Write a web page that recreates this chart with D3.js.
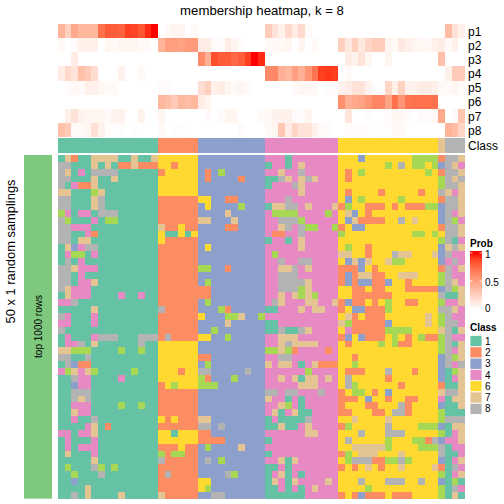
<!DOCTYPE html>
<html>
<head>
<meta charset="utf-8">
<script src="https://cdn.jsdelivr.net/npm/d3@7"></script>
<style>
html,body{margin:0;padding:0;background:#fff}
svg{display:block;font-family:"Liberation Sans",Arial,sans-serif}
</style>
</head>
<body>
<div id="chart"></div>
<script>
const classNames = [1,2,3,4,5,6,7,8];
const classColors = ["#66c2a5","#fc8d62","#8da0cb","#e78ac3","#a6d854","#ffd92f","#e5c494","#b3b3b3"];
const legendClasses = [1,2,3,4,6,7,8];
const probLabels = ["p1","p2","p3","p4","p5","p6","p7","p8"];
const probTicks = [0,0.5,1];
const columnClassRuns = [[1,15],[2,6],[3,10],[4,11],[6,15],[7,1],[8,3]];

const p1 = [.40,.25,.45,.38,.38,.38,.72,.80,.80,.78,.90,.88,.82,.95,1, 0,.03,.06,.06,0,.03, 0,0,0,0,0,0,0,0,0,0, .27,.15,.07,.20,.10,.20,.03,0,0,0,0, 0,0,0,0,0,0,0,0,0,0,0,0,0,0,0, 0, .35,.15,.08];
const p2 = [.04,0,.02,.08,.08,.08,0,.05,.03,.05,.05,.05,.03,.03,0, .40,.50,.50,.48,.52,.52, .10,.10,.02,.02,.10,.06,.02,0,0,0, .03,.03,.04,.05,0,.05,0,.04,0,0,0, .25,.12,.25,.12,.22,.27,.27,.06,.04,.12,.08,.05,.04,.04,.08, .10, .03,.08,0];
const p3 = [0,0,.10,0,0,0,0,0,0,0,0,0,0,0,0, 0,0,0,0,0,0, .60,.42,.85,.80,.80,.75,.80,.90,1,.95, 0,0,0,0,0,0,0,0,0,0,0, 0,.10,.07,.15,.05,0,0,.06,0,0,0,0,0,0,0, .33, 0,0,0];
const p4 = [.10,.20,.15,.33,.28,.18,0,0,0,.07,0,0,.03,0,0, 0,0,0,0,0,0, 0,0,0,0,0,0,0,0,0,0, .60,.62,.42,.38,.50,.42,.55,.70,.90,.92,.90, 0,.03,0,0,0,0,0,0,0,0,0,0,0,0,0, 0, .08,.28,.28];
const p5 = [0,.02,.04,.03,.08,.08,.05,.03,.03,0,0,0,0,0,0, .02,.02,0,0,0,0, .17,.25,.08,.10,.05,.03,.05,.02,0,0, 0,0,0,0,.03,.05,.04,.04,0,.02,.02, .07,.10,.15,.15,.06,.01,0,.22,.08,.24,.07,.08,.10,.10,.08, .03, .03,.05,.02];
const p6 = [0,0,0,0,0,0,0,0,0,0,0,0,0,0,0, .38,.35,.28,.37,.35,.38, .10,.06,0,0,0,0,0,0,0,0, 0,0,0,0,0,0,0,0,0,0,0, .58,.42,.45,.48,.55,.62,.62,.48,.72,.55,.70,.72,.72,.72,.72, 0, 0,0,0];
const p7 = [0,.08,.15,.07,.05,.05,.05,.03,.07,.07,0,0,.07,0,0, .05,0,0,0,0,0, 0,.03,0,.02,.05,.05,0,0,0,.03, .04,.07,.08,.07,.02,.02,.06,0,0,0,0, 0,.14,0,0,.01,0,0,.02,.05,.04,.02,0,.02,.01,.04, .45, 0,.03,.30];
const p8 = [.33,.28,.03,.03,.05,.17,.07,.01,.01,.01,0,.01,0,0,0, .03,0,.01,.01,0,0, 0,0,0,0,0,0,.02,0,0,0, .03,.05,.30,.10,.22,.15,.15,.08,.03,.02,0, 0,.02,.02,.02,.01,.01,0,.01,.04,.03,0,0,0,0,0, 0, .40,.35,.22];
const probSeries = [p1,p2,p3,p4,p5,p6,p7,p8];

const sampleRows = [
"172117777117117 666666 3333333333 44414444444 666366666665555 2887",
"881117171227222 662666 3333333333 14414744444 666666656865565 3874",
"871418888111111 266666 3235333333 44744844444 626566666666656 2887",
"881117117111111 666666 3233332333 11874787444 626666666666666 5878",
"814227111111111 666666 3333333333 14448744444 666666666666666 5887",
"771115711111111 666666 3333333333 44444744444 626666266666266 8747",
"881117811111111 222222 6633223333 44484444444 636566666566666 2887",
"881117811111111 222222 3633335333 17788474447 256622262622255 3887",
"541441888111111 222222 3333733333 45555444454 673626666666666 3847",
"851114155111111 222222 7733373333 44888544444 637222266867666 3854",
"884441111111111 722622 3333223333 44784855445 263366666666666 2887",
"881142111111111 611616 3333333333 42244844444 566666666665565 6887",
"881771111111111 622222 3333333333 14414744444 666666666666666 5814",
"173488111111111 222222 3633333333 44444744444 656626666666666 3787",
"145514111111111 222222 3333333333 45444444444 776626668776667 3844",
"181411111111111 222222 3333333333 44844884444 637376675566666 3484",
"887444111111111 222222 5533233333 44778474444 222362666666666 2847",
"881411111111111 222222 3333333333 44888444444 232772266777666 5844",
"881447111111111 222222 3533333333 44888874444 232332236626666 5874",
"874441111111111 222222 2233333333 44888574444 662262266622222 3857",
"174441111411411 222222 2233333333 44747575444 662222226666666 8117",
"448111111111111 222222 3533333333 48744477447 232262656622666 5447",
"111117111111111 822222 3335233333 11444747744 263322256666666 8874",
"841114111111111 222222 6333557335 44444444444 672622266666676 5844",
"441114111111111 222222 3333733333 11444444444 752222236666676 5884",
"811111111111111 222222 3353333333 11811874444 642222255556666 7817",
"141114888111888 282222 6633533333 44777444444 236322265626522 5844",
"144817111111811 666666 3333333333 44787777444 626666565226666 5817",
"775551111511511 666666 3333333333 55752444424 666666666666666 5847",
"881181111111111 666666 2233333333 44884444444 662666666666666 3857",
"183221111111111 666666 3533333333 74774147222 665666666666666 3848",
"457475111115111 666266 8833333833 44444454444 622266686662666 3157",
"118441111411111 666666 5233353333 44747177474 686666626666666 3147",
"113441111111111 265666 5553333333 44444777444 685666666266666 2117",
"118881111111111 222222 3333333333 88488444844 265562636666666 7887",
"118781111111111 222222 3333333333 74414144444 222636626622666 4177",
"114441111511511 222222 3333333333 44754144444 266622666826666 3117",
"117441111111111 222222 3333333333 47147114444 226662268826666 5111",
"114118111111111 626222 7733333333 14111184444 667666676666666 5888",
"111147121111111 222222 8838333333 11711474444 256666686666555 3177",
"441447111111111 661666 2233333333 44444477444 666866688866666 5147",
"141114111111111 666666 2222333333 14444444444 686666656665528 3447",
"141444111111111 222622 3533337333 44444444444 667777756666555 8144",
"171114111111111 525522 3333333333 14444444444 256777666766666 8114",
"111117111111111 822222 3835333333 44717444444 658882255856666 3147",
"151118515111111 222222 3333333333 11414444444 262676266766667 2184",
"115111811111111 282222 3333853333 14714144444 666666666666666 5147",
"113111111111111 222222 6633333333 17417444474 666866688866866 3151",
"111171111111111 222222 6533333333 11414147444 666656666666666 5184",
"118171111711111 722222 3388333333 11111144444 262322262226666 5171"
];

const W = 504, H = 504;
const svg = d3.select("#chart").append("svg").attr("width",W).attr("height",H);

const columnClasses = columnClassRuns.flatMap(([c,n]) => d3.range(n).map(() => c));
const nCols = columnClasses.length;
const matrix = sampleRows.map(s => s.replace(/ /g,"").split("").map(Number));

const x = d3.scaleLinear().domain([0,nCols]).range([58,465]);
const yProb = d3.scaleBand().domain(probLabels).range([24,137]);
const yMain = d3.scaleLinear().domain([0,matrix.length]).range([155,498.7]);
const colorClass = d3.scaleOrdinal().domain(classNames).range(classColors);
const colorProb = d3.scaleLinear().domain([0,1]).range(["#ffffff","#ff0000"]).interpolate(d3.interpolateLab);

const px = v => Math.round(v);

// probability heatmap
probLabels.forEach((name,i) => {
  const g = svg.append("g");
  const y0 = px(yProb(name)), y1 = px(yProb(name)+yProb.bandwidth());
  g.selectAll("rect").data(probSeries[i]).join("rect")
    .attr("x",(d,c)=>px(x(c))).attr("width",(d,c)=>px(x(c+1))-px(x(c)))
    .attr("y",y0).attr("height",y1-y0)
    .attr("fill",d=>colorProb(d));
  svg.append("text").attr("x",468).attr("y",yProb(name)+yProb.bandwidth()/2+0.4).attr("dy","0.36em")
    .attr("font-size",12).attr("fill","#000").text(name);
});

// class annotation
svg.append("g").selectAll("rect").data(columnClasses).join("rect")
  .attr("x",(d,c)=>px(x(c))).attr("width",(d,c)=>px(x(c+1))-px(x(c)))
  .attr("y",138).attr("height",15).attr("fill",d=>colorClass(d));
svg.append("text").attr("x",468).attr("y",145.5).attr("dy","0.36em")
  .attr("font-size",12).attr("fill","#000").text("Class");

// sample matrix
svg.append("g").selectAll("g").data(matrix).join("g")
  .each(function(row,r){
    d3.select(this).selectAll("rect").data(row).join("rect")
      .attr("x",(d,c)=>px(x(c))).attr("width",(d,c)=>px(x(c+1))-px(x(c)))
      .attr("y",px(yMain(r))).attr("height",px(yMain(r+1))-px(yMain(r)))
      .attr("fill",d=>colorClass(d));
  });

// left strip
svg.append("rect").attr("x",24).attr("y",155).attr("width",28).attr("height",343.7).attr("fill","#7fc97f");
svg.append("text").attr("transform","translate(38,326.5) rotate(-90)").attr("text-anchor","middle")
  .attr("dy","0.36em").attr("font-size",10).attr("fill","#000").text("top 1000 rows");
svg.append("text").attr("transform","translate(10,251.5) rotate(-90)").attr("text-anchor","middle")
  .attr("dy","0.36em").attr("font-size",12.9).attr("fill","#000").text("50 x 1 random samplings");

// title
svg.append("text").attr("x",262).attr("y",10).attr("text-anchor","middle").attr("dy","0.36em")
  .attr("font-size",13.2).attr("fill","#000").text("membership heatmap, k = 8");

// probability legend
const yLeg = d3.scaleLinear().domain([0,1]).range([309,253]);
const defs = svg.append("defs");
const grad = defs.append("linearGradient").attr("id","probGrad").attr("x1",0).attr("x2",0).attr("y1",1).attr("y2",0);
d3.range(0,1.001,0.1).forEach(v => grad.append("stop").attr("offset",v).attr("stop-color",colorProb(v)));
svg.append("rect").attr("x",470).attr("y",yLeg(1)).attr("width",12).attr("height",yLeg(0)-yLeg(1)).attr("fill","url(#probGrad)");
svg.append("rect").attr("x",470).attr("y",251).attr("width",12).attr("height",yLeg(1)-251).attr("fill","#ff0000");
const tickSides = [[470,472.5],[479.5,482]];
tickSides.forEach(([a,b]) => {
  svg.append("g").selectAll("line").data(probTicks.filter(v=>v>0)).join("line")
    .attr("x1",a).attr("x2",b).attr("y1",d=>yLeg(d)).attr("y2",d=>yLeg(d))
    .attr("stroke","#fff").attr("stroke-width",0.8);
});
svg.append("text").attr("x",470).attr("y",243).attr("dy","0.36em").attr("font-size",10).attr("font-weight","bold").text("Prob");
const legLabelY = {0:308.7,0.5:282.5,1:254.5};
svg.append("g").selectAll("text").data(probTicks).join("text")
  .attr("x",485).attr("y",d=>legLabelY[d]).attr("dy","0.36em").attr("font-size",10).text(d=>d);

// class legend
svg.append("text").attr("x",470).attr("y",327).attr("dy","0.36em").attr("font-size",10).attr("font-weight","bold").text("Class");
const yClass = d3.scaleBand().domain(legendClasses).range([335.5,414.5]);
const lg = svg.append("g").selectAll("g").data(legendClasses).join("g");
lg.append("rect").attr("x",470).attr("width",12).attr("y",d=>yClass(d)).attr("height",yClass.bandwidth())
  .attr("fill",d=>colorClass(d)).attr("stroke","#fff").attr("stroke-width",0.8);
lg.append("text").attr("x",485).attr("y",d=>yClass(d)+yClass.bandwidth()/2).attr("dy","0.36em").attr("font-size",10).text(d=>d);
</script>
</body>
</html>
